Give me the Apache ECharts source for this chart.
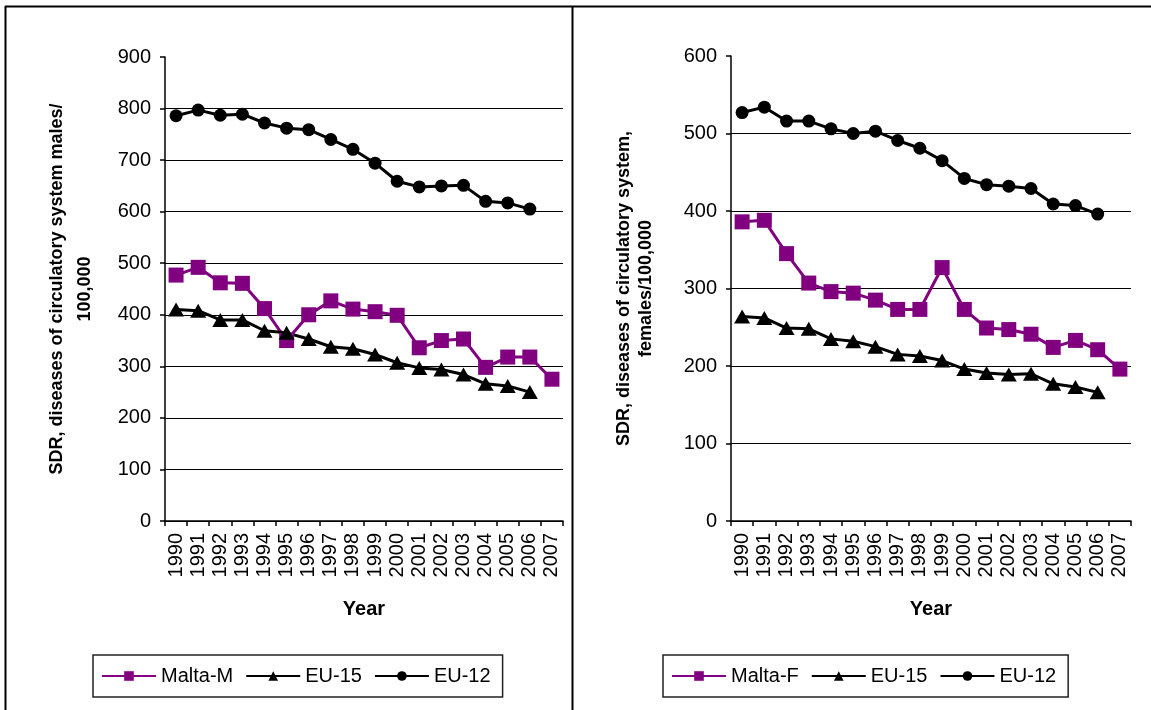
<!DOCTYPE html>
<html>
<head>
<meta charset="utf-8">
<title>SDR, diseases of circulatory system</title>
<script src="https://cdn.jsdelivr.net/npm/echarts@6/dist/echarts.min.js"></script>
<style>
  html, body { margin: 0; padding: 0; background: #fff; }
  #chart { width: 1151px; height: 710px; }
</style>
</head>
<body>
<div id="chart"></div>
<script>
// Years on the category axis
const years = ['1990','1991','1992','1993','1994','1995','1996','1997','1998',
               '1999','2000','2001','2002','2003','2004','2005','2006','2007'];

// Males, standardised death rate per 100,000
const maltaM = [477, 492, 462, 461, 412, 350, 400, 427, 411, 406, 399, 336, 350, 353, 298, 318, 318, 275];
const eu15M  = [410, 408, 390, 390, 369, 365, 353, 338, 334, 323, 307, 297, 294, 284, 266, 262, 250, null];
const eu12M  = [786, 797, 787, 789, 772, 762, 759, 740, 721, 694, 659, 648, 650, 651, 620, 617, 605, null];

// Females, standardised death rate per 100,000
const maltaF = [386, 388, 345, 307, 296, 294, 285, 273, 273, 327, 273, 249, 247, 241, 224, 233, 221, 196];
const eu15F  = [264, 262, 249, 248, 235, 232, 225, 215, 213, 207, 196, 191, 189, 190, 177, 173, 166, null];
const eu12F  = [527, 534, 516, 516, 506, 500, 503, 491, 481, 465, 442, 434, 432, 429, 409, 407, 396, null];

// Y-axis tick ranges
const maleTicks = { min: 0, max: 900, step: 100 };
const femaleTicks = { min: 0, max: 600, step: 100 };

const FONT = 'Liberation Sans, Arial, sans-serif';
const PURPLE = '#800080';

function xAxisFor(gridIndex) {
  return {
    type: 'category', gridIndex, data: years, boundaryGap: true,
    axisLine: { lineStyle: { color: '#000', width: 1.5 } },
    axisTick: { show: true, interval: 0, length: 5, lineStyle: { color: '#000', width: 1.5 } },
    axisLabel: { interval: 0, rotate: 90, margin: 12, color: '#000', fontSize: 20, fontFamily: FONT },
    name: 'Year', nameLocation: 'middle', nameGap: 78,
    nameTextStyle: { color: '#000', fontSize: 20, fontWeight: 'bold', fontFamily: FONT }
  };
}

function yAxisFor(gridIndex, ticks, title, gap, lineHeight) {
  return {
    type: 'value', gridIndex, min: ticks.min, max: ticks.max, interval: ticks.step,
    axisLine: { show: true, lineStyle: { color: '#000', width: 1.5 } },
    axisTick: { show: true, length: 5, lineStyle: { color: '#000', width: 1.5 } },
    axisLabel: { margin: 14, color: '#000', fontSize: 20, fontFamily: FONT },
    splitLine: { show: true, showMaxLine: false, lineStyle: { color: '#000', width: 1.2 } },
    name: title, nameLocation: 'middle', nameGap: gap, nameRotate: 90,
    nameTextStyle: { color: '#000', fontSize: 18, fontWeight: 'bold', fontFamily: FONT, lineHeight, align: 'center' }
  };
}

function lineSeries(name, data, idx, color, symbol, size) {
  return {
    name, type: 'line', xAxisIndex: idx, yAxisIndex: idx, data,
    symbol, symbolSize: size, showAllSymbol: true, connectNulls: false,
    lineStyle: { color, width: 3 },
    itemStyle: { color, borderWidth: 0 },
    emphasis: { disabled: true },
    animation: false
  };
}

function legendFor(left, names) {
  return {
    left, top: 655, orient: 'horizontal', data: names,
    itemWidth: 54, itemHeight: 12, itemGap: 12,
    padding: [11, 12, 11, 8],
    borderColor: '#222', borderWidth: 1.5, backgroundColor: '#fff',
    textStyle: { color: '#000', fontSize: 20, fontFamily: FONT },
    selectedMode: false
  };
}

const chart = echarts.init(document.getElementById('chart'), null, { renderer: 'canvas' });

chart.setOption({
  backgroundColor: '#fff',
  animation: false,
  grid: [
    { left: 165, top: 57, width: 398, height: 464 },
    { left: 731, top: 56, width: 400, height: 465 }
  ],
  xAxis: [xAxisFor(0), xAxisFor(1)],
  yAxis: [
    yAxisFor(0, maleTicks, 'SDR, diseases of circulatory system males/\n100,000', 66, 28),
    yAxisFor(1, femaleTicks, 'SDR, diseases of circulatory system,\nfemales/100,000', 74, 22)
  ],
  legend: [
    legendFor(93, ['Malta-M', 'EU-15', 'EU-12']),
    legendFor(663, ['Malta-F', 'EU-15', 'EU-12'])
  ],
  series: [
    lineSeries('Malta-M', maltaM, 0, PURPLE, 'rect', 15),
    lineSeries('EU-15', eu15M, 0, '#000', 'triangle', [16, 14]),
    lineSeries('EU-12', eu12M, 0, '#000', 'circle', 13),
    lineSeries('Malta-F', maltaF, 1, PURPLE, 'rect', 15),
    lineSeries('EU-15', eu15F, 1, '#000', 'triangle', [16, 14]),
    lineSeries('EU-12', eu12F, 1, '#000', 'circle', 13)
  ],
  // Panel frame: top rule, left rule and the divider between the two panels
  graphic: [
    { type: 'line', shape: { x1: 5, y1: 6.5, x2: 1151, y2: 6.5 }, style: { stroke: '#000', lineWidth: 2 }, silent: true },
    { type: 'line', shape: { x1: 5.5, y1: 6, x2: 5.5, y2: 710 }, style: { stroke: '#000', lineWidth: 2 }, silent: true },
    { type: 'line', shape: { x1: 572.5, y1: 6, x2: 572.5, y2: 710 }, style: { stroke: '#000', lineWidth: 2 }, silent: true }
  ]
});
</script>
</body>
</html>
